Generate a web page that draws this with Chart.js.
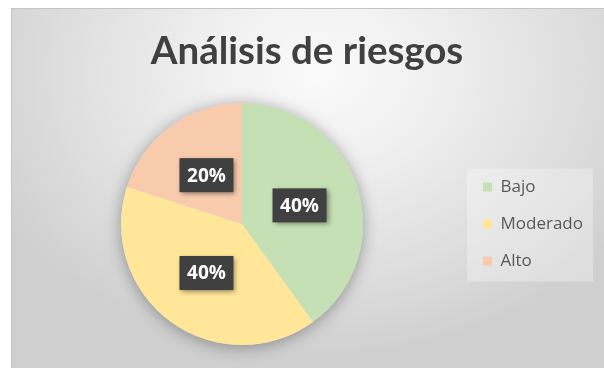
<!DOCTYPE html>
<html lang="es">
<head>
<meta charset="utf-8">
<title>Análisis de riesgos</title>
<script src="https://cdn.jsdelivr.net/npm/chart.js@4.4.1/dist/chart.umd.min.js"></script>
<style>
  html, body { margin: 0; padding: 0; background: #ffffff; }
  #frame {
    position: absolute;
    left: 11px;
    top: 8px;
    width: 593px;
    height: 360px;
    background: radial-gradient(ellipse 62% 80% at 52% 18%, #fafafa 0%, #f0f0f0 30%, #dedede 70%, #cfcfcf 100%);
    box-shadow: inset 1px 1px 0 #c4c4c4;
  }
  #chart { display: block; }
</style>
</head>
<body>
<div id="frame"><canvas id="chart" width="593" height="360"></canvas></div>
<script>
const categories = ['Bajo', 'Moderado', 'Alto'];
const shares = [40, 40, 20];
const sliceColors = ['#c5e0b4', '#ffe699', '#f8cbad'];

// soft halo behind the whole pie, drawn once so slices don't shade each other
const pieShadow = {
  id: 'pieShadow',
  beforeDatasetsDraw(chart) {
    const arc = chart.getDatasetMeta(0).data[0];
    if (!arc) return;
    const { ctx } = chart;
    ctx.save();
    ctx.shadowColor = 'rgba(0, 0, 0, 0.35)';
    ctx.shadowBlur = 16;
    ctx.shadowOffsetY = 2;
    ctx.fillStyle = '#dddddd';
    ctx.beginPath();
    ctx.arc(arc.x, arc.y, arc.outerRadius, 0, Math.PI * 2);
    ctx.fill();
    ctx.restore();
  }
};

// faint panel behind the legend entries
const legendPanel = {
  id: 'legendPanel',
  beforeDraw(chart) {
    const lg = chart.legend;
    const boxes = lg && lg.legendHitBoxes;
    if (!boxes || !boxes.length) return;
    const first = boxes[0];
    const last = boxes[boxes.length - 1];
    const left = first.left - 16;
    const top = first.top - 10;
    const { ctx } = chart;
    ctx.save();
    ctx.fillStyle = 'rgba(255, 255, 255, 0.3)';
    ctx.fillRect(left, top, lg.right - left, last.top + last.height + 12 - top);
    ctx.restore();
  }
};

// dark boxed percentage labels at the middle of each slice
const sliceLabels = {
  id: 'sliceLabels',
  afterDatasetsDraw(chart) {
    const { ctx } = chart;
    const values = chart.data.datasets[0].data;
    const total = values.reduce((a, b) => a + b, 0);
    chart.getDatasetMeta(0).data.forEach((arc, i) => {
      const pos = arc.tooltipPosition();
      const text = Math.round(values[i] / total * 100) + '%';
      const w = 54, h = 34;
      ctx.save();
      ctx.font = 'bold 19px "Open Sans", sans-serif';
      ctx.shadowColor = 'rgba(0, 0, 0, 0.45)';
      ctx.shadowBlur = 5;
      ctx.shadowOffsetX = 2;
      ctx.shadowOffsetY = 2;
      ctx.fillStyle = '#404040';
      ctx.fillRect(pos.x - w / 2, pos.y - h / 2, w, h);
      ctx.shadowColor = 'transparent';
      ctx.fillStyle = '#ffffff';
      ctx.textAlign = 'center';
      ctx.textBaseline = 'middle';
      ctx.fillText(text, pos.x, pos.y + 1);
      ctx.restore();
    });
  }
};

new Chart(document.getElementById('chart'), {
  type: 'pie',
  data: {
    labels: categories,
    datasets: [{
      data: shares,
      backgroundColor: sliceColors,
      borderWidth: 0
    }]
  },
  options: {
    responsive: false,
    animation: false,
    layout: { padding: { left: 10, right: 11, top: 0, bottom: 23 } },
    plugins: {
      title: {
        display: true,
        text: 'Análisis de riesgos',
        color: '#404040',
        font: { family: 'Lato', size: 38.5, weight: 'bold', lineHeight: 1.25 },
        padding: { top: 20, bottom: 27 }
      },
      legend: {
        position: 'right',
        fullSize: false,
        labels: {
          color: '#595959',
          font: { family: '"Open Sans"', size: 17 },
          boxWidth: 9,
          boxHeight: 9,
          padding: 20
        }
      },
      tooltip: { enabled: false }
    }
  },
  plugins: [pieShadow, legendPanel, sliceLabels]
});
</script>
</body>
</html>
